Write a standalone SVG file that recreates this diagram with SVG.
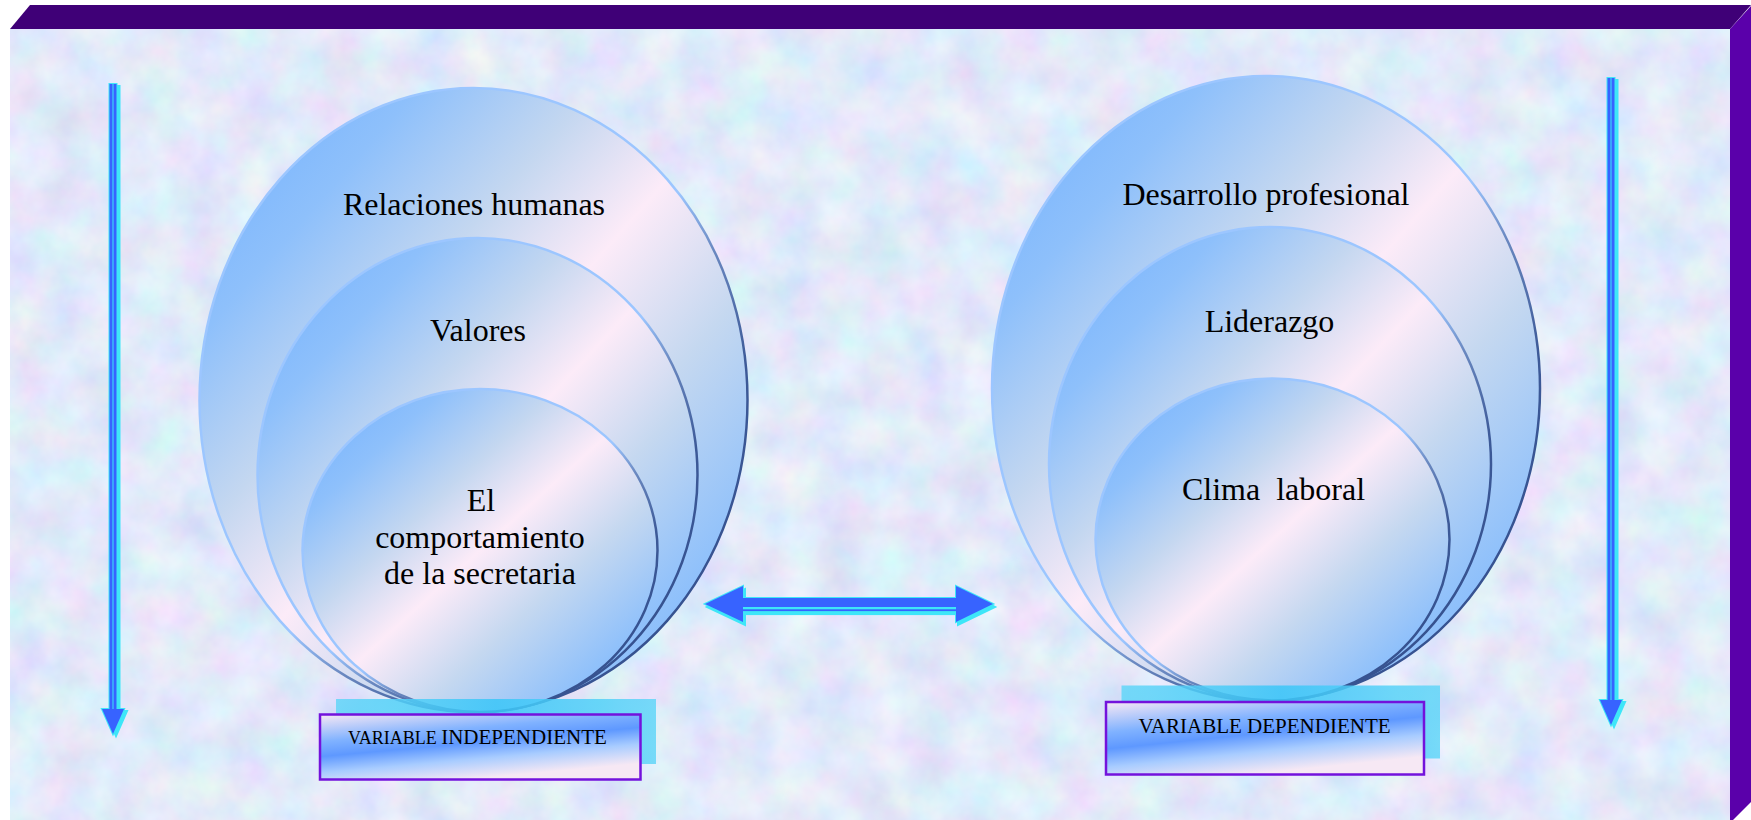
<svg xmlns="http://www.w3.org/2000/svg" xmlns:xlink="http://www.w3.org/1999/xlink" width="1751" height="820" viewBox="0 0 1751 820">
<style>
.t{font-family:"Liberation Serif","Times New Roman",serif;font-size:32px;fill:#000;text-anchor:middle}
.lbl{font-family:"Liberation Serif","Times New Roman",serif;fill:#000}
.ell{fill:url(#ellFill);stroke:url(#ellStroke);stroke-width:2.5}
.cyanBox{fill:url(#cyanG);opacity:0.85}
.purpleBox{fill:url(#boxG);stroke:#7312DC;stroke-width:2.5}
.sh{fill:#3EE6F8;stroke:#3EE6F8;stroke-width:2}
.bl{fill:#3763FF}
</style>
<defs>
<filter id="tex" filterUnits="objectBoundingBox" x="0" y="0" width="1" height="1">
<feTurbulence type="fractalNoise" baseFrequency="0.022" numOctaves="4" seed="7" result="n"/>
<feColorMatrix in="n" type="matrix" values="0.38 0 0 0 0.57  0 0.32 0 0 0.66  0 0 0.16 0 0.87  0 0 0 0 1"/>
</filter>
<linearGradient id="ellFill" x1="0" y1="0" x2="1" y2="1">
<stop offset="0" stop-color="#6DAEFF"/>
<stop offset="0.2" stop-color="#8EC0FB"/>
<stop offset="0.36" stop-color="#C4D7F0"/>
<stop offset="0.5" stop-color="#FCEBF8"/>
<stop offset="0.66" stop-color="#C5D8F0"/>
<stop offset="0.85" stop-color="#8EC0FB"/>
<stop offset="1" stop-color="#6DAEFF"/>
</linearGradient>
<linearGradient id="ellStroke" x1="0" y1="0" x2="1" y2="1">
<stop offset="0" stop-color="#9CC6FF"/>
<stop offset="0.52" stop-color="#9CC6FF"/>
<stop offset="0.6" stop-color="#6A88C0"/>
<stop offset="0.72" stop-color="#3D5A98"/>
<stop offset="1" stop-color="#2F4A88"/>
</linearGradient>
<linearGradient id="boxG" x1="0" y1="0" x2="0.45" y2="1">
<stop offset="0" stop-color="#F8E8F4"/>
<stop offset="0.35" stop-color="#80B2FF"/>
<stop offset="0.54" stop-color="#5E98FF"/>
<stop offset="0.75" stop-color="#A8CCFF"/>
<stop offset="1" stop-color="#F6E8F4"/>
</linearGradient>
<linearGradient id="cyanG" x1="0" y1="0" x2="1" y2="0">
<stop offset="0" stop-color="#62D6F8"/>
<stop offset="0.5" stop-color="#3AC6F8"/>
<stop offset="1" stop-color="#62D6F8"/>
</linearGradient>
<g id="vArrowL">
<rect x="-3.5" y="0" width="3" height="625"/>
<rect x="0.5" y="0" width="3" height="625"/>
<polygon points="-11,625 11,625 0,650"/>
</g>
<g id="vArrowR">
<rect x="-3.5" y="0" width="3" height="622"/>
<rect x="0.5" y="0" width="3" height="622"/>
<polygon points="-11,622 11,622 0,647"/>
</g>
<g id="hArrow">
<polygon points="705,604 743,586 743,622"/>
<polygon points="993,604 956,586 956,622"/>
<rect x="742" y="598" width="215" height="9"/>
<rect x="742" y="609.3" width="215" height="1.8"/>
</g>
</defs>

<g id="frame">
<rect x="10" y="29" width="1720" height="791" fill="#C8D6F2" filter="url(#tex)"/>
<polygon points="10,29 30,5 1751,5 1730,29" fill="#3F0077"/>
<polygon points="1730,29 1751,6 1751,802 1733,820 1730,820" fill="#5A00AA"/>
</g>

<g id="connectors">
<g id="arrow-left">
<use xlink:href="#vArrowL" href="#vArrowL" class="sh" transform="translate(116,86)"/>
<use xlink:href="#vArrowL" href="#vArrowL" class="sh" transform="translate(113,84)"/>
<use xlink:href="#vArrowL" href="#vArrowL" class="bl" transform="translate(113,84)"/>
</g>
<g id="arrow-right">
<use xlink:href="#vArrowR" href="#vArrowR" class="sh" transform="translate(1614,80)"/>
<use xlink:href="#vArrowR" href="#vArrowR" class="sh" transform="translate(1611,78)"/>
<use xlink:href="#vArrowR" href="#vArrowR" class="bl" transform="translate(1611,78)"/>
</g>
<g id="arrow-double">
<use xlink:href="#hArrow" href="#hArrow" class="sh" transform="translate(2,3)"/>
<use xlink:href="#hArrow" href="#hArrow" class="sh"/>
<use xlink:href="#hArrow" href="#hArrow" class="bl"/>
</g>
</g>

<g id="node-relaciones">
<ellipse class="ell" cx="473.5" cy="400" rx="274" ry="312"/>
<text class="t" x="474" y="215">Relaciones humanas</text>
</g>
<g id="node-valores">
<ellipse class="ell" cx="477.5" cy="475" rx="220" ry="237"/>
<text class="t" x="478" y="341">Valores</text>
</g>
<g id="node-comportamiento">
<ellipse class="ell" cx="480" cy="550.5" rx="177.5" ry="161.5"/>
<text class="t" x="481" y="511">El</text>
<text class="t" x="480" y="548">comportamiento</text>
<text class="t" x="480" y="584">de la secretaria</text>
</g>

<g id="node-desarrollo">
<ellipse class="ell" cx="1266" cy="388.5" rx="274" ry="312.5"/>
<text class="t" x="1266" y="205">Desarrollo profesional</text>
</g>
<g id="node-liderazgo">
<ellipse class="ell" cx="1270" cy="464" rx="221" ry="237"/>
<text class="t" x="1269.5" y="332">Liderazgo</text>
</g>
<g id="node-clima">
<ellipse class="ell" cx="1272.5" cy="539.5" rx="177" ry="161"/>
<text class="t" x="1273.5" y="500" xml:space="preserve" style="white-space:pre">Clima  laboral</text>
</g>

<g id="label-independiente">
<rect class="cyanBox" x="336" y="699" width="320" height="65"/>
<rect class="purpleBox" x="320" y="714.5" width="320.5" height="65"/>
<text class="lbl" x="348" y="744"><tspan font-size="18">VARIABLE </tspan><tspan font-size="21">INDEPENDIENTE</tspan></text>
</g>
<g id="label-dependiente">
<rect class="cyanBox" x="1121.5" y="685.5" width="318.5" height="73"/>
<rect class="purpleBox" x="1106" y="702" width="318" height="72.5"/>
<text class="lbl" x="1264.5" y="732.5" font-size="21" text-anchor="middle">VARIABLE DEPENDIENTE</text>
</g>
</svg>
